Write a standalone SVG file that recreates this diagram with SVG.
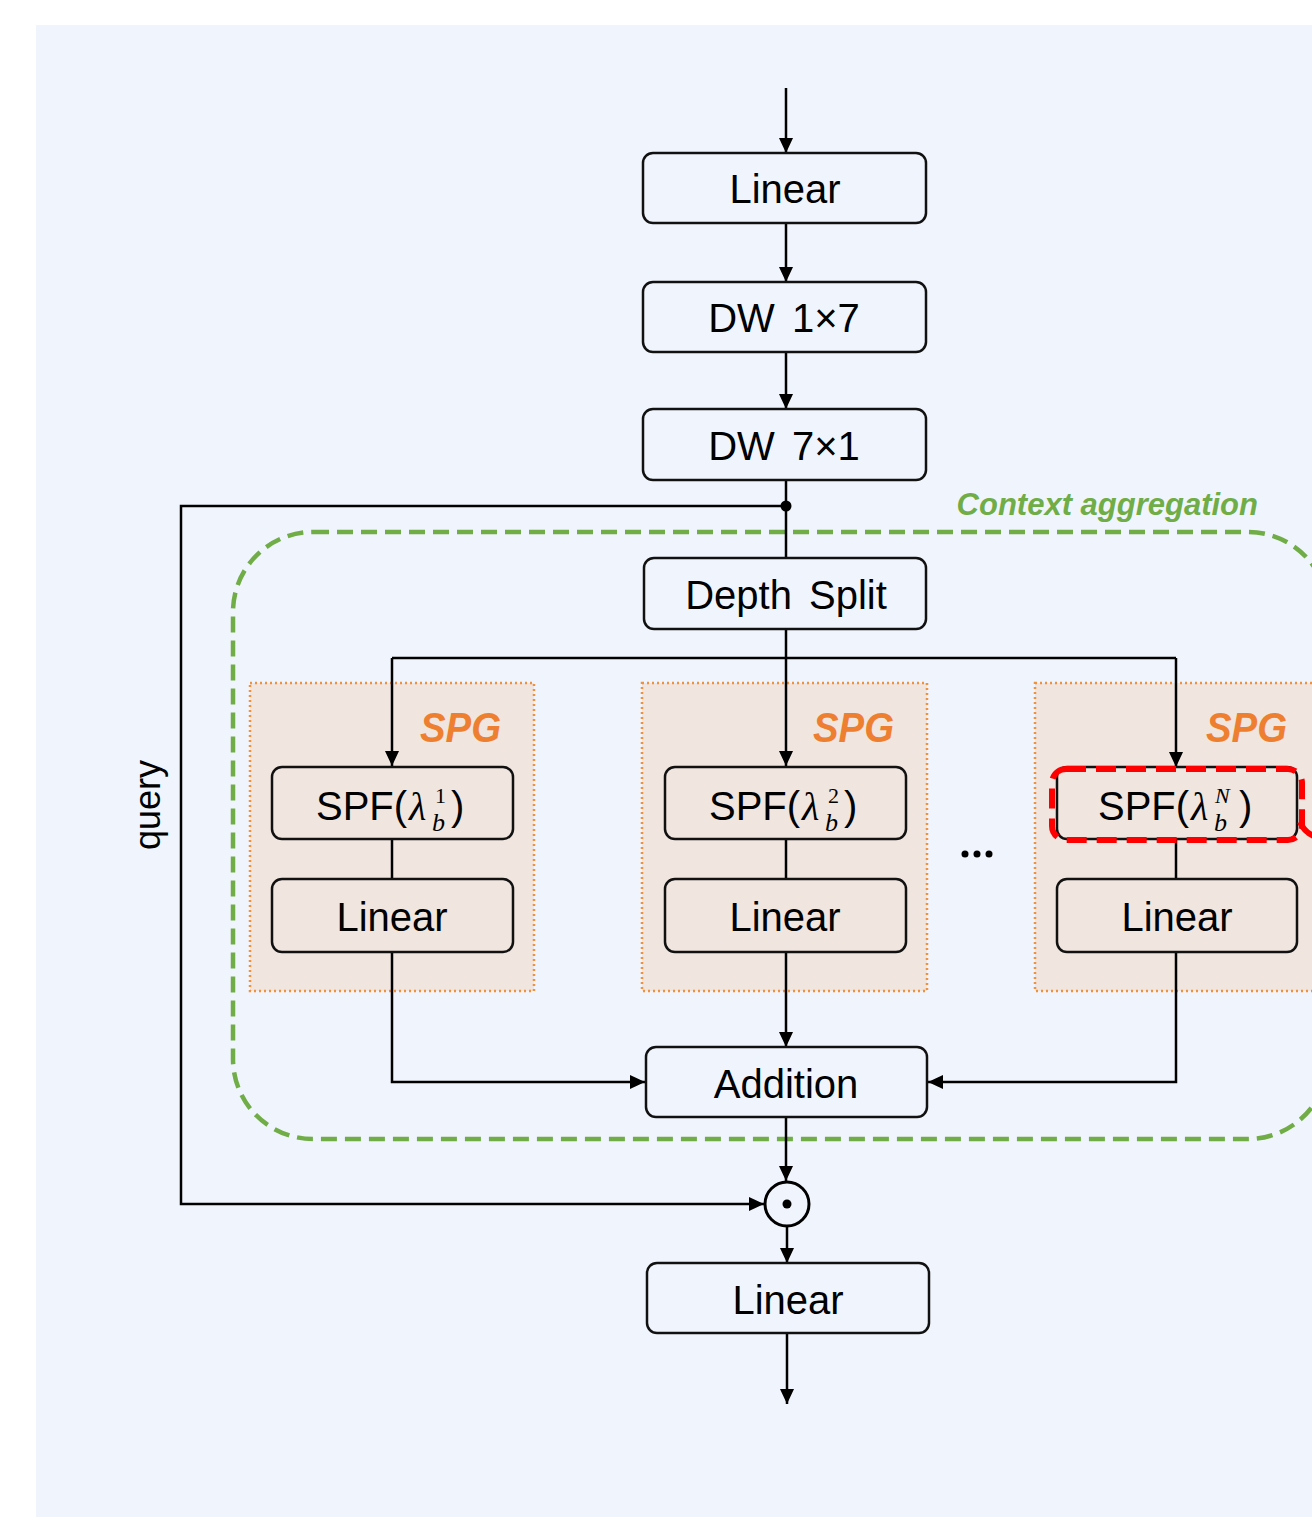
<svg xmlns="http://www.w3.org/2000/svg" width="1312" height="1517" viewBox="0 0 1312 1517">
  <defs>
    <marker id="arrow" viewBox="0 0 15 14" markerWidth="15" markerHeight="14" refX="15" refY="7" orient="auto" markerUnits="userSpaceOnUse">
      <path d="M0,0 L15,7 L0,14 Z" fill="#000"/>
    </marker>
    <style>
      .box { fill: none; stroke: #111; stroke-width: 2.5; }
      .spfbox { fill: #F0E5DF; stroke: #111; stroke-width: 2.5; }
      .spg { fill: #F0E5DF; stroke: #F0913E; stroke-width: 2.5; stroke-dasharray: 2 3; }
      .lbl { font-family: "Liberation Sans", Arial, sans-serif; font-size: 40px; fill: #000; text-anchor: middle; }
      .spf { font-family: "Liberation Sans", Arial, sans-serif; font-size: 40px; fill: #000; }
      .m { font-family: "Liberation Serif", "DejaVu Serif", serif; font-style: italic; }
      .sup { font-family: "Liberation Serif", "DejaVu Serif", serif; font-size: 22px; }
      .sub { font-family: "Liberation Serif", "DejaVu Serif", serif; font-style: italic; font-size: 26px; }
      .spgt { font-family: "Liberation Sans", Arial, sans-serif; font-size: 42px; font-weight: bold; font-style: italic; fill: #EE7F30; }
      .wire { fill: none; stroke: #000; stroke-width: 2.5; }
    </style>
  </defs>

  <!-- canvas -->
  <rect x="0" y="0" width="1312" height="1517" fill="#FFFFFF"/>
  <rect x="36" y="25" width="1276" height="1492" fill="#F0F5FD"/>

  <!-- context aggregation region -->
  <g id="context-aggregation">
    <path d="M313,532 H1248 A80,80 0 0 1 1328,612 V1059 A80,80 0 0 1 1248,1139 H313 A80,80 0 0 1 233,1059 V612 A80,80 0 0 1 313,532 Z" fill="none" stroke="#70AD47" stroke-width="4.5" stroke-dasharray="16 8"/>
    <text x="1258" y="515" text-anchor="end" font-family="Liberation Sans, Arial, sans-serif" font-size="31" font-weight="bold" font-style="italic" fill="#70AD47">Context aggregation</text>
  </g>

  <!-- SPG groups -->
  <g id="spg1">
    <rect class="spg" x="250" y="683" width="284" height="308"/>
    <text class="spgt" x="420" y="742" textLength="81" lengthAdjust="spacingAndGlyphs">SPG</text>
  </g>
  <g id="spg2">
    <rect class="spg" x="642" y="683" width="285" height="308"/>
    <text class="spgt" x="813" y="742" textLength="81" lengthAdjust="spacingAndGlyphs">SPG</text>
  </g>
  <g id="spg3">
    <rect class="spg" x="1035" y="683" width="290" height="308"/>
    <text class="spgt" x="1206" y="742" textLength="81" lengthAdjust="spacingAndGlyphs">SPG</text>
  </g>

  <!-- connectors -->
  <g id="connectors">
    <path class="wire" d="M786,88 V153" marker-end="url(#arrow)"/>
    <path class="wire" d="M786,223 V282" marker-end="url(#arrow)"/>
    <path class="wire" d="M786,352 V409" marker-end="url(#arrow)"/>
    <path class="wire" d="M786,480 V558"/>
    <path class="wire" d="M786,506 H181 V1204 H764" marker-end="url(#arrow)"/>
    <circle cx="786" cy="506" r="5.5" fill="#000"/>
    <path class="wire" d="M786,629 V766" marker-end="url(#arrow)"/>
    <path class="wire" d="M392,658 H1176"/>
    <path class="wire" d="M392,658 V766" marker-end="url(#arrow)"/>
    <path class="wire" d="M1176,658 V767" marker-end="url(#arrow)"/>
    <path class="wire" d="M392,839 V879"/>
    <path class="wire" d="M786,839 V879"/>
    <path class="wire" d="M1176,839 V879"/>
    <path class="wire" d="M392,952 V1082 H645" marker-end="url(#arrow)"/>
    <path class="wire" d="M1176,952 V1082 H928" marker-end="url(#arrow)"/>
    <path class="wire" d="M786,952 V1047" marker-end="url(#arrow)"/>
    <path class="wire" d="M786,1117 V1181" marker-end="url(#arrow)"/>
    <path class="wire" d="M787,1227 V1263" marker-end="url(#arrow)"/>
    <path class="wire" d="M787,1333 V1404" marker-end="url(#arrow)"/>
  </g>

  <!-- main chain -->
  <g id="linear-in">
    <rect class="box" x="643" y="153" width="283" height="70" rx="10"/>
    <text class="lbl" x="785" y="203">Linear</text>
  </g>
  <g id="dw-1x7">
    <rect class="box" x="643" y="282" width="283" height="70" rx="10"/>
    <text class="lbl" x="784" y="332" word-spacing="6">DW 1×7</text>
  </g>
  <g id="dw-7x1">
    <rect class="box" x="643" y="409" width="283" height="71" rx="10"/>
    <text class="lbl" x="784" y="460" word-spacing="6">DW 7×1</text>
  </g>
  <g id="depth-split">
    <rect class="box" x="644" y="558" width="282" height="71" rx="10"/>
    <text class="lbl" x="786" y="609" word-spacing="6">Depth Split</text>
  </g>

  <!-- branch 1 -->
  <g id="spf1">
    <rect class="spfbox" x="272" y="767" width="241" height="72" rx="10"/>
    <text class="spf"><tspan x="316" y="820">SPF(</tspan><tspan class="m" x="409" y="820">λ</tspan><tspan class="sup" x="435" y="803">1</tspan><tspan class="sub" x="432" y="831">b</tspan><tspan x="451" y="820">)</tspan></text>
  </g>
  <g id="linear1">
    <rect class="spfbox" x="272" y="879" width="241" height="73" rx="10"/>
    <text class="lbl" x="392" y="931">Linear</text>
  </g>

  <!-- branch 2 -->
  <g id="spf2">
    <rect class="spfbox" x="665" y="767" width="241" height="72" rx="10"/>
    <text class="spf"><tspan x="709" y="820">SPF(</tspan><tspan class="m" x="802" y="820">λ</tspan><tspan class="sup" x="828" y="803">2</tspan><tspan class="sub" x="825" y="831">b</tspan><tspan x="844" y="820">)</tspan></text>
  </g>
  <g id="linear2">
    <rect class="spfbox" x="665" y="879" width="241" height="73" rx="10"/>
    <text class="lbl" x="785" y="931">Linear</text>
  </g>

  <!-- ellipsis between branches -->
  <g id="ellipsis" fill="#000">
    <circle cx="965" cy="854" r="3.5"/>
    <circle cx="977" cy="854" r="3.5"/>
    <circle cx="989" cy="854" r="3.5"/>
  </g>

  <!-- branch N -->
  <g id="spfN">
    <rect class="spfbox" x="1057" y="767" width="240" height="72" rx="10"/>
    <text class="spf"><tspan x="1098" y="820">SPF(</tspan><tspan class="m" x="1191" y="820">λ</tspan><tspan class="sup" font-style="italic" x="1215" y="803">N</tspan><tspan class="sub" x="1214" y="831">b</tspan><tspan x="1239" y="820">)</tspan></text>
    <rect x="1052" y="769" width="250" height="71" rx="14" fill="none" stroke="#FF0000" stroke-width="6" stroke-dasharray="20 10"/>
    <path d="M1300,822 Q1304,832 1314,836" fill="none" stroke="#FF0000" stroke-width="6"/>
  </g>
  <g id="linearN">
    <rect class="spfbox" x="1057" y="879" width="240" height="73" rx="10"/>
    <text class="lbl" x="1177" y="931">Linear</text>
  </g>

  <!-- merge -->
  <g id="addition">
    <rect class="box" x="646" y="1047" width="281" height="70" rx="10"/>
    <text class="lbl" x="786" y="1098">Addition</text>
  </g>
  <g id="hadamard">
    <circle cx="787" cy="1204" r="22" fill="none" stroke="#000" stroke-width="3"/>
    <circle cx="787" cy="1204" r="4.5" fill="#000"/>
  </g>
  <g id="linear-out">
    <rect class="box" x="647" y="1263" width="282" height="70" rx="10"/>
    <text class="lbl" x="788" y="1314">Linear</text>
  </g>

  <!-- query label -->
  <g id="query-label">
    <text x="160" y="805" transform="rotate(-90 160 805)" text-anchor="middle" font-family="Liberation Sans, Arial, sans-serif" font-size="36" fill="#000">query</text>
  </g>
</svg>
